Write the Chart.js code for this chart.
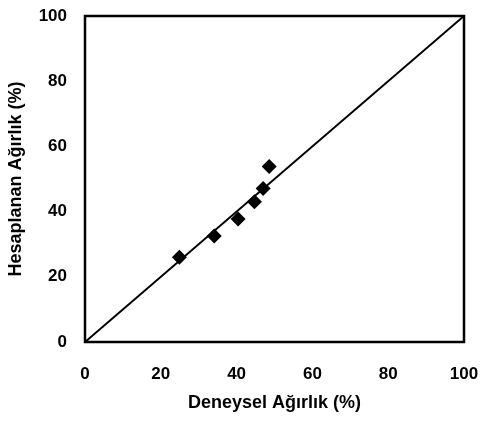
<!DOCTYPE html>
<html><head><meta charset="utf-8">
<script src="https://cdn.jsdelivr.net/npm/chart.js@4/dist/chart.umd.min.js"></script>
<style>html,body{margin:0;padding:0;background:#fff}#w{width:482px;height:423px}</style>
</head><body><div id="w"><canvas id="c"></canvas></div>
<script>
const xLabelTitle = "Deneysel Ağırlık (%)";
const yLabelTitle = "Hesaplanan Ağırlık (%)";
const experimental = [24.9, 34.1, 40.4, 44.7, 47.0, 48.6];
const calculated = [26.0, 32.5, 37.7, 43.0, 47.1, 53.8];
const lineX = [0, 100];
const lineY = [0, 100];
const tickValues = [0, 20, 40, 60, 80, 100];

const frame = {
  id: 'frame',
  afterDatasetsDraw(chart) {
    const a = chart.chartArea, ctx = chart.ctx;
    ctx.save();
    ctx.strokeStyle = '#000';
    ctx.lineWidth = 2.5;
    ctx.strokeRect(a.left, a.top, a.right - a.left, a.bottom - a.top);
    ctx.restore();
  }
};

function zeroPad(s) { s.paddingLeft = 0; s.paddingRight = 0; s.paddingTop = 0; s.paddingBottom = 0; }

new Chart(document.getElementById('c'), {
  type: 'scatter',
  data: {
    datasets: [
      {
        data: experimental.map((x, i) => ({x, y: calculated[i]})),
        pointStyle: 'rectRot', pointRadius: 7.5, pointHoverRadius: 7.5,
        backgroundColor: '#000', borderColor: '#000', borderWidth: 0, showLine: false
      },
      {
        data: lineX.map((x, i) => ({x, y: lineY[i]})),
        showLine: true, pointRadius: 0, borderColor: '#000', borderWidth: 2, fill: false
      }
    ]
  },
  plugins: [frame],
  options: {
    responsive: true, maintainAspectRatio: false, animation: false,
    layout: {padding: {left: 0, right: 18, top: 16, bottom: 0}},
    plugins: {legend: {display: false}, tooltip: {enabled: false}},
    scales: {
      x: {
        type: 'linear', min: 0, max: 100,
        afterFit(s) { s.height = 81; zeroPad(s); },
        afterBuildTicks(s) { s.ticks = tickValues.map(v => ({value: v})); },
        grid: {display: false, drawTicks: false},
        border: {display: false},
        ticks: {padding: 22, color: '#000', font: {family: 'Liberation Sans', size: 17, weight: 'bold'}},
        title: {display: true, text: xLabelTitle, color: '#000', padding: {top: 0, bottom: 9},
          font: {family: 'Liberation Sans', size: 18, weight: 'bold'}}
      },
      y: {
        type: 'linear', min: 0, max: 100,
        afterFit(s) { s.width = 85; zeroPad(s); },
        afterBuildTicks(s) { s.ticks = tickValues.map(v => ({value: v})); },
        grid: {display: false, drawTicks: false},
        border: {display: false},
        ticks: {padding: 18, color: '#000', font: {family: 'Liberation Sans', size: 17, weight: 'bold'}},
        title: {display: true, text: yLabelTitle, color: '#000', padding: {top: 5, bottom: 0},
          font: {family: 'Liberation Sans', size: 18, weight: 'bold'}}
      }
    }
  }
});
</script></body></html>
